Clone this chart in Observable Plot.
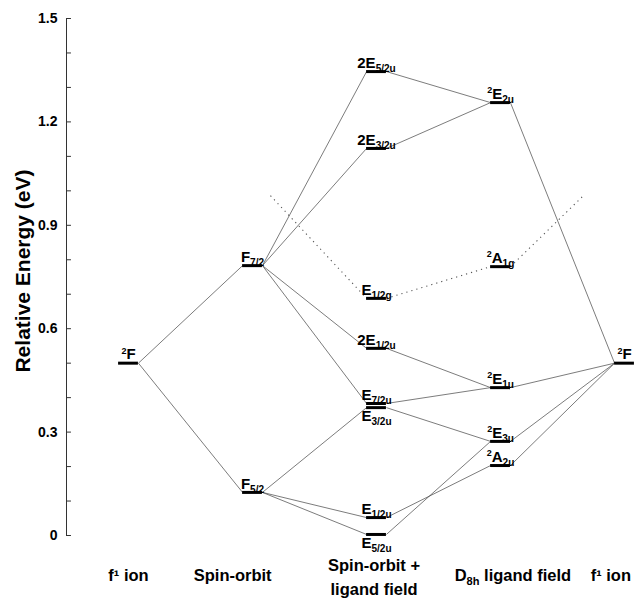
<!DOCTYPE html>
<html>
<head>
<meta charset="utf-8">
<script src="https://cdn.jsdelivr.net/npm/d3@7"></script>
<script src="https://cdn.jsdelivr.net/npm/@observablehq/plot@0.6"></script>
<style>
  body { margin: 0; background: #fff; }
  #chart svg { display: block; }
</style>
</head>
<body>
<div id="chart"></div>
<script>
// ---- data ----
const stageLabels = ["f¹ ion", "Spin-orbit", "Spin-orbit +\nligand field", "D_{8h} ligand field", "f¹ ion"];
const stageLabelColumn = [0, 0.84, 1.98, 3.1, 3.89];

const levelIds     = ["F", "F72", "F52", "E52u2", "E32u2", "E12g", "E12u2", "E72u", "E32u", "E12u", "E52u", "E2u", "A1g", "E1u", "E3u", "A2u", "Fr"];
const levelNames   = ["^2F", "F_{7/2}", "F_{5/2}", "2E_{5/2u}", "2E_{3/2u}", "E_{1/2g}", "2E_{1/2u}", "E_{7/2u}", "E_{3/2u}", "E_{1/2u}", "E_{5/2u}", "^2E_{2u}", "^2A_{1g}", "^2E_{1u}", "^2E_{3u}", "^2A_{2u}", "^2F"];
const levelColumn  = [0, 1, 1, 2, 2, 2, 2, 2, 2, 2, 2, 3, 3, 3, 3, 3, 4];
const levelEnergy  = [0.50, 0.783, 0.125, 1.346, 1.123, 0.688, 0.543, 0.383, 0.371, 0.052, 0.003, 1.256, 0.780, 0.429, 0.273, 0.203, 0.50];
const labelBelowIds = ["E32u", "E52u"];

const solidFrom = ["F", "F", "F72", "F72", "F72", "F72", "F52", "F52", "F52", "E52u2", "E32u2", "E12u2", "E72u", "E32u", "E12u", "E52u", "E2u", "E1u", "E3u", "A2u"];
const solidTo   = ["F72", "F52", "E52u2", "E32u2", "E12u2", "E72u", "E32u", "E12u", "E52u", "E2u", "E2u", "E1u", "E1u", "E3u", "A2u", "E3u", "Fr", "Fr", "Fr", "Fr"];

const dottedFrom = ["open1", "E12g", "A1g"];
const dottedTo   = ["E12g", "A1g", "open2"];
const openEndIds = ["open1", "open2"];
const openEndColumn = [1.145, 3.66];
const openEndEnergy = [0.986, 0.983];

const majorTicks = [0, 0.3, 0.6, 0.9, 1.2, 1.5];
const allTicks = [0, 0.1, 0.2, 0.3, 0.4, 0.5, 0.6, 0.7, 0.8, 0.9, 1.0, 1.1, 1.2, 1.3, 1.4, 1.5];
const yTitle = "Relative Energy (eV)";

// ---- build tables ----
const HW = 0.08; // half bar width in column units
const levels = levelIds.map((id, i) => ({id, name: levelNames[i], col: levelColumn[i], energy: levelEnergy[i]}));
const byId = new Map(levels.map(d => [d.id, d]));
openEndIds.forEach((id, i) => byId.set(id, {id, col: openEndColumn[i], energy: openEndEnergy[i], open: true}));

function makeLinks(from, to) {
  return from.map((a, i) => {
    const A = byId.get(a), B = byId.get(to[i]);
    return {
      x1: A.col + (A.open ? 0 : HW), y1: A.energy,
      x2: B.col - (B.open ? 0 : HW), y2: B.energy
    };
  });
}
const solidLinks = makeLinks(solidFrom, solidTo);
const dottedLinks = makeLinks(dottedFrom, dottedTo);
const below = new Set(labelBelowIds);
const stages = stageLabels.map((label, i) => ({label, col: stageLabelColumn[i], twoLine: label.includes("\n")}));
const X0 = -0.5;

const font = "Liberation Sans, Arial, Helvetica, sans-serif";

const chart = Plot.plot({
  width: 641,
  height: 608,
  marginLeft: 66,
  marginRight: 0,
  marginTop: 18,
  marginBottom: 73,
  x: {domain: [X0, 4.137], axis: null},
  y: {domain: [0, 1.5], axis: null},
  style: {fontFamily: font, background: "#fff", color: "#000"},
  marks: [
    // y axis
    Plot.ruleX([X0], {y1: 0, y2: 1.5, stroke: "#333", strokeWidth: 1}),
    Plot.ruleY(allTicks, {y: d => d, x1: X0, x2: X0 + 0.04, stroke: "#333", strokeWidth: 1}),
    Plot.text(majorTicks, {x: X0, y: d => d, text: d => String(d), textAnchor: "end", dx: -9,
      fontSize: 14, fontWeight: "bold", fill: "#000"}),
    Plot.text([yTitle], {frameAnchor: "left", text: d => d, rotate: -90, textAnchor: "middle", dx: -43, dy: -6,
      fontSize: 21, fontWeight: "bold", fill: "#000"}),
    // connecting lines
    Plot.link(dottedLinks, {x1: "x1", y1: "y1", x2: "x2", y2: "y2", stroke: "#555", strokeWidth: 1.1, strokeDasharray: "1.2,4"}),
    Plot.link(solidLinks, {x1: "x1", y1: "y1", x2: "x2", y2: "y2", stroke: "#444", strokeWidth: 0.7}),
    // levels
    Plot.ruleY(levels, {y: "energy", x1: d => d.col - HW, x2: d => d.col + HW, stroke: "#000", strokeWidth: 3}),
    // level labels
    Plot.text(levels.filter(d => !below.has(d.id)), {x: "col", y: "energy", text: "name", dy: -8.5,
      fontSize: 15, fontWeight: "bold", fill: "#000"}),
    Plot.text(levels.filter(d => below.has(d.id)), {x: "col", y: "energy", text: "name", dy: 8.5,
      fontSize: 15, fontWeight: "bold", fill: "#000"}),
    // stage labels
    Plot.text(stages.filter(d => !d.twoLine), {x: "col", frameAnchor: "bottom", text: "label", dy: 45,
      fontSize: 16.5, fontWeight: "bold", fill: "#000"}),
    Plot.text(stages.filter(d => d.twoLine), {x: "col", frameAnchor: "bottom", text: "label", dy: 59,
      lineHeight: 1.45, fontSize: 16.5, fontWeight: "bold", fill: "#000"})
  ]
});

document.getElementById("chart").appendChild(chart);

// rich text: ^x superscript, _{..} subscript
d3.select(chart).selectAll("text").each(function () {
  const el = d3.select(this);
  if (!el.selectAll("tspan").empty()) return;
  const s = el.text();
  if (!/[_^]/.test(s)) return;
  const re = /\^\{([^}]*)\}|\^(.)|_\{([^}]*)\}|([^_^]+)/g;
  el.text(null);
  let shift = 0, m;
  while ((m = re.exec(s))) {
    let txt, target, size = null;
    if (m[1] != null || m[2] != null) { txt = m[1] != null ? m[1] : m[2]; target = -5.5; size = "0.6em"; }
    else if (m[3] != null) { txt = m[3]; target = 4; size = "0.67em"; }
    else { txt = m[4]; target = 0; }
    const ts = el.append("tspan").text(txt).attr("dy", target - shift);
    if (size) ts.attr("font-size", size);
    shift = target;
  }
});
</script>
</body>
</html>
